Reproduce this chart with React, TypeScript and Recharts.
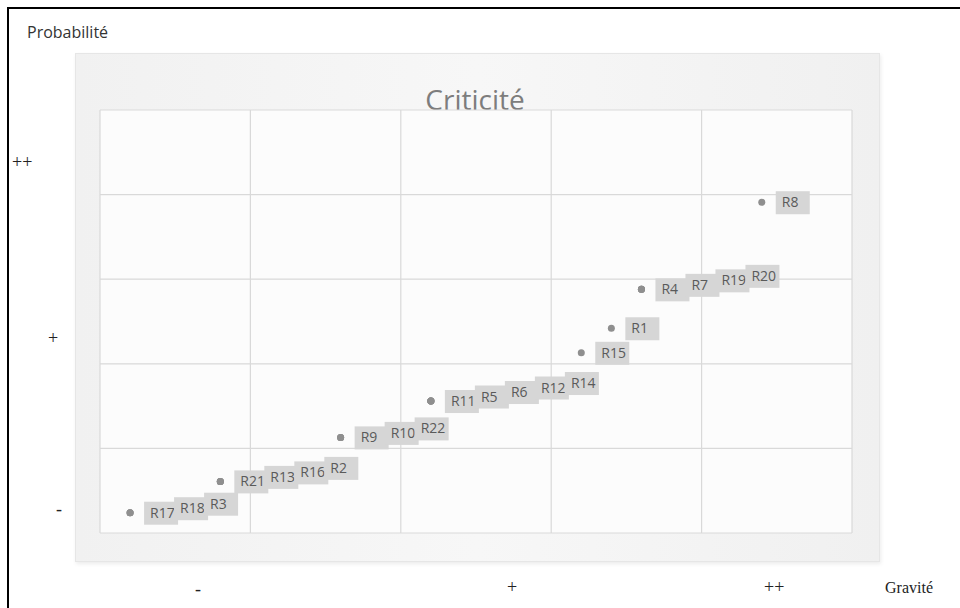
import { ScatterChart, Scatter, XAxis, YAxis, CartesianGrid } from "recharts";

// risques (noms, gravité, probabilité)
const riskNames = [
  "R17", "R18", "R3",
  "R21", "R13", "R16", "R2",
  "R9", "R10", "R22",
  "R11", "R5", "R6", "R12", "R14",
  "R15",
  "R1",
  "R4", "R7", "R19", "R20",
  "R8",
];
const gravite = [
  0.2, 0.2, 0.2,
  0.8, 0.8, 0.8, 0.8,
  1.6, 1.6, 1.6,
  2.2, 2.2, 2.2, 2.2, 2.2,
  3.2,
  3.4,
  3.6, 3.6, 3.6, 3.6,
  4.4,
];
const probabilite = [
  0.24, 0.24, 0.24,
  0.61, 0.61, 0.61, 0.61,
  1.13, 1.13, 1.13,
  1.56, 1.56, 1.56, 1.56, 1.56,
  2.13,
  2.42,
  2.88, 2.88, 2.88, 2.88,
  3.91,
];
const gridTicks = [0, 1, 2, 3, 4, 5];
const yLevelLabels = ["-", "+", "++"];
const xLevelLabels = ["-", "+", "++"];

// rang de chaque point dans son groupe (mêmes coordonnées) pour décaler les étiquettes
const data = riskNames.map((name, i) => {
  let rank = 0;
  for (let j = 0; j < i; j++) {
    if (gravite[j] === gravite[i] && probabilite[j] === probabilite[i]) rank++;
  }
  return { name, x: gravite[i], y: probabilite[i], rank };
});

const RiskPoint = (props: any) => {
  const { cx, cy, payload } = props;
  const tx = cx + 20 + payload.rank * 30;
  const ty = cy - payload.rank * 4.5;
  return (
    <g>
      <circle cx={cx} cy={cy} r={3.5} fill="#8f8f8f" />
      <rect x={tx - 6} y={ty - 11} width={34} height={23} fill="#d6d6d6" />
      <text
        x={tx}
        y={ty + 5}
        fontSize={14}
        fontFamily="'Open Sans', sans-serif"
        fill="#5a5a5a"
      >
        {payload.name}
      </text>
    </g>
  );
};

const serif = "'Liberation Serif', 'DejaVu Serif', serif";
const sans = "'Open Sans', 'Noto Sans', sans-serif";

export default function App() {
  const yPos = [
    { left: 56, top: 499 },
    { left: 48, top: 328 },
    { left: 12, top: 152 },
  ];
  const xPos = [
    { left: 195, top: 579 },
    { left: 507, top: 577 },
    { left: 764, top: 577 },
  ];
  return (
    <div style={{ position: "relative", width: 960, height: 608, background: "#fff", overflow: "hidden" }}>
      <style>{"body{margin:0}"}</style>
      <div
        style={{
          position: "absolute",
          left: 7,
          top: 7,
          width: 960,
          height: 620,
          borderLeft: "2px solid #000",
          borderTop: "2px solid #000",
        }}
      />
      <div
        style={{
          position: "absolute",
          left: 27,
          top: 21,
          fontFamily: sans,
          fontSize: 16,
          color: "#333",
        }}
      >
        Probabilité
      </div>
      <div
        style={{
          position: "absolute",
          left: 75,
          top: 53,
          width: 803,
          height: 507,
          background: "linear-gradient(90deg, #f1f1f1 0%, #f7f7f7 50%, #f0f0f0 100%)",
          border: "1px solid #e6e6e6",
          boxShadow: "1px 2px 4px rgba(0,0,0,0.08)",
        }}
      />
      <div
        style={{
          position: "absolute",
          left: 0,
          width: 950,
          top: 80,
          textAlign: "center",
          fontFamily: sans,
          fontSize: 28,
          color: "#7d7d7d",
        }}
      >
        Criticité
      </div>
      {yLevelLabels.map((t, i) => (
        <div
          key={"y" + i}
          style={{ position: "absolute", ...yPos[i], fontFamily: serif, fontSize: 18, color: "#222" }}
        >
          {t}
        </div>
      ))}
      {xLevelLabels.map((t, i) => (
        <div
          key={"x" + i}
          style={{ position: "absolute", ...xPos[i], fontFamily: serif, fontSize: 18, color: "#222" }}
        >
          {t}
        </div>
      ))}
      <div
        style={{ position: "absolute", left: 885, top: 579, fontFamily: serif, fontSize: 16, color: "#222" }}
      >
        Gravité
      </div>
      <div style={{ position: "absolute", left: 0, top: 0 }}>
        <ScatterChart width={960} height={608} margin={{ top: 110, right: 108, bottom: 75, left: 100 }}>
          <CartesianGrid stroke="#d9d9d9" strokeWidth={1.2} fill="#fcfcfc" />
          <XAxis type="number" dataKey="x" domain={[0, 5]} ticks={gridTicks} hide />
          <YAxis type="number" dataKey="y" domain={[0, 5]} ticks={gridTicks} hide />
          <Scatter data={data} shape={RiskPoint} isAnimationActive={false} />
        </ScatterChart>
      </div>
    </div>
  );
}
